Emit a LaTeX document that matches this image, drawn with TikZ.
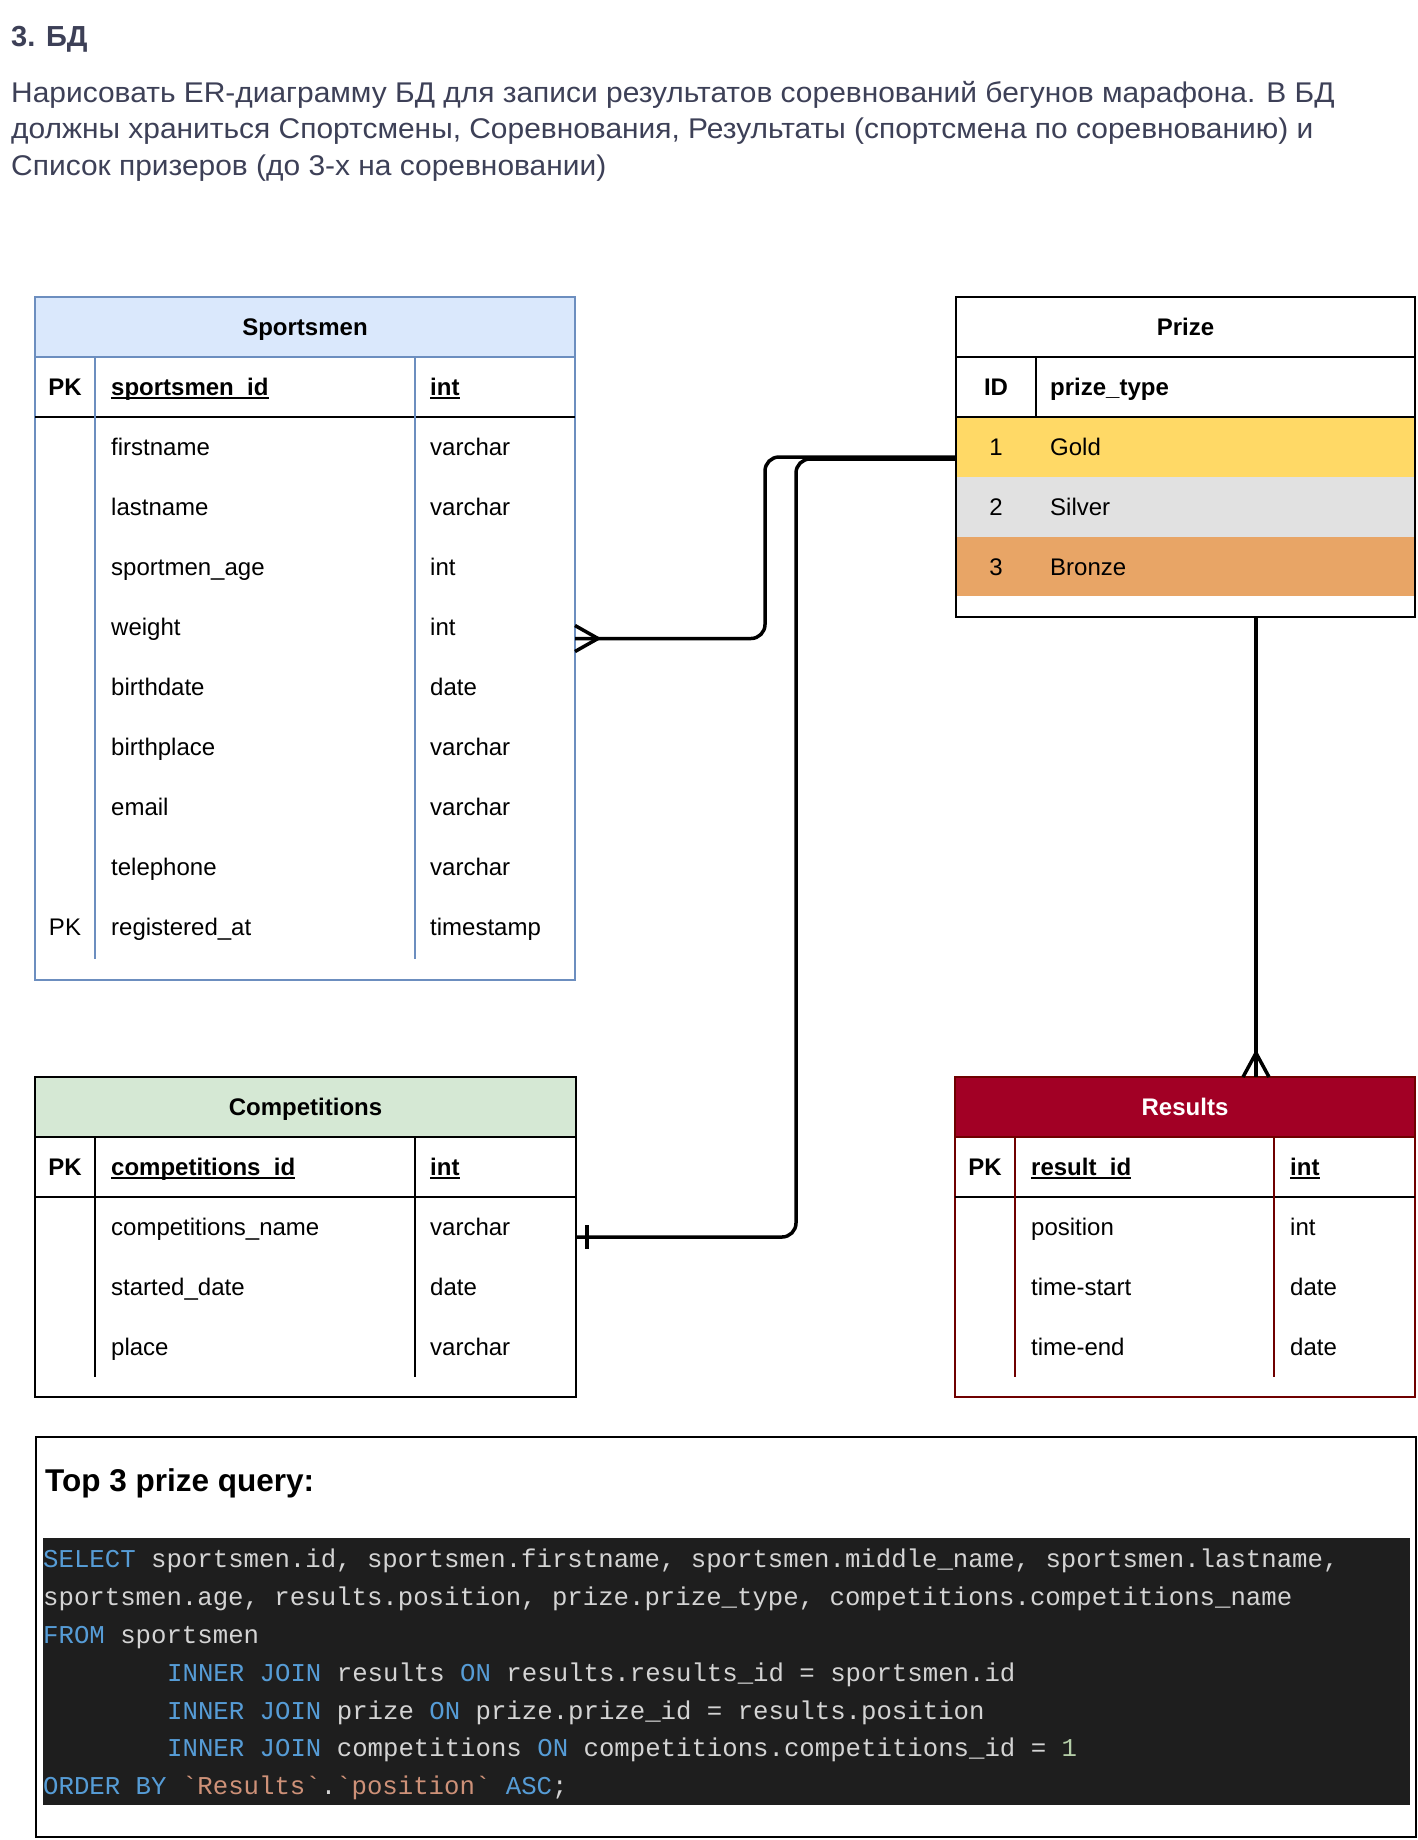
\documentclass[tikz,border=0pt]{standalone}
\usepackage{fontspec}
\setmainfont{Liberation Sans}
\setmonofont{Liberation Mono}
\newfontfamily\parafont[FakeStretch=1.05]{Liberation Sans}
\definecolor{paracol}{HTML}{3D4057}
\definecolor{sblue}{HTML}{6C8EBF}
\definecolor{sfill}{HTML}{DAE8FC}
\definecolor{cfill}{HTML}{D5E8D4}
\definecolor{rfill}{HTML}{A20025}
\definecolor{rline}{HTML}{6F0000}
\definecolor{goldc}{HTML}{FFD966}
\definecolor{silverc}{HTML}{E1E1E1}
\definecolor{bronzec}{HTML}{E8A566}
\definecolor{codebg}{HTML}{1E1E1E}
\definecolor{codetx}{HTML}{D4D4D4}
\definecolor{codekw}{HTML}{569CD6}
\definecolor{codestr}{HTML}{CE9178}
\definecolor{codenum}{HTML}{B5CEA8}
\newcommand\myfs[1]{\fontsize{#1}{#1}\selectfont}
\newcommand\kw[1]{\textcolor{codekw}{#1}}
\newcommand\myul[1]{\setbox0=\hbox{#1}\rlap{\rule[-3.5pt]{\wd0}{1.8pt}}\box0}
\begin{document}
\begin{tikzpicture}[x=1pt,y=-1pt,
  cell/.style={anchor=west,inner sep=0pt,font=\myfs{24},text height=17pt,text depth=0pt},
  hcell/.style={cell,font=\bfseries\myfs{24}},
  hdrtext/.style={anchor=center,inner sep=0pt,font=\bfseries\myfs{24},text height=17pt,text depth=0pt},
  tbox/.style={anchor=north west,inner sep=0pt,outer sep=0pt},
  conn/.style={line width=3.5pt},
  codeln/.style={anchor=base west,inner sep=0pt,font=\ttfamily\myfs{25.7},text=codetx},
  paratext/.style={anchor=base west,inner sep=0pt,font=\parafont\myfs{28.5},text=paracol}
]
\useasboundingbox (0,0) rectangle (1418,1840);
\fill[white] (0,0) rectangle (1418,1840);

% ---------- heading ----------
\node[paratext,font=\bfseries\myfs{29}] (head) at (11,46) {3. БД};
\node[paratext] (par1) at (11,102) {Нарисовать ER-диаграмму БД для записи результатов соревнований бегунов марафона. В БД};
\node[paratext] (par2) at (11,138.5) {должны храниться Спортсмены, Соревнования, Результаты (спортсмена по соревнованию) и};
\node[paratext] (par3) at (11,175) {Список призеров (до 3-х на соревновании)};

% ---------- Sportsmen ----------
\node[tbox,fill=sfill,minimum width=540pt,minimum height=60pt] (sporthead) at (35,297) {};
\node[tbox,draw=sblue,line width=1.5pt,minimum width=540pt,minimum height=683pt] (sport) at (35,297) {};
\draw[sblue,line width=1.5pt] (35,357) -- (575,357);
\draw[black,line width=2pt] (35,417) -- (575,417);
\draw[sblue,line width=1.5pt] (95,357) -- (95,959) (415,357) -- (415,959);
\node[hdrtext] (sportt) at (305,327) {Sportsmen};
\node[hcell,anchor=center] (spk) at (65,387) {PK};
\node[hcell] (spn) at (111,387) {\myul{sportsmen\_id}};
\node[hcell] (spt) at (430,387) {\myul{int}};
\foreach \n/\t [count=\i from 0] in {firstname/varchar,lastname/varchar,sportmen\_age/int,weight/int,birthdate/date,birthplace/varchar,email/varchar,telephone/varchar,registered\_at/timestamp}{
  \node[cell] (sn\i) at (111,447+60*\i) {\n};
  \node[cell] (st\i) at (430,447+60*\i) {\t};
}
\node[cell,anchor=center] (spk2) at (65,927) {PK};

% ---------- Prize ----------
\node[tbox,fill=goldc,minimum width=459pt,minimum height=60pt] (goldrow) at (956,417) {};
\node[tbox,fill=silverc,minimum width=459pt,minimum height=60pt] (silverrow) at (956,477) {};
\node[tbox,fill=bronzec,minimum width=459pt,minimum height=59pt] (bronzerow) at (956,537) {};
\node[tbox,draw,line width=2pt,minimum width=459pt,minimum height=320pt] (prize) at (956,297) {};
\draw[line width=2pt] (956,357) -- (1415,357) (956,417) -- (1415,417) (1036,357) -- (1036,417);
\node[hdrtext] (prizet) at (1185.5,327) {Prize};
\node[hdrtext] (pid) at (996,387) {ID};
\node[hcell] (ptype) at (1050,387) {prize\_type};
\node[cell,anchor=center] (p1) at (996,447) {1};
\node[cell] (p1n) at (1050,447) {Gold};
\node[cell,anchor=center] (p2) at (996,507) {2};
\node[cell] (p2n) at (1050,507) {Silver};
\node[cell,anchor=center] (p3) at (996,567) {3};
\node[cell] (p3n) at (1050,567) {Bronze};

% ---------- Competitions ----------
\node[tbox,fill=cfill,minimum width=541pt,minimum height=60pt] (comphead) at (35,1077) {};
\node[tbox,draw,line width=2pt,minimum width=541pt,minimum height=320pt] (comp) at (35,1077) {};
\draw[line width=2pt] (35,1137) -- (576,1137) (35,1197) -- (576,1197);
\draw[line width=1.5pt] (95,1137) -- (95,1377) (415,1137) -- (415,1377);
\node[hdrtext] (compt) at (305.5,1107) {Competitions};
\node[hcell,anchor=center] (cpk) at (65,1167) {PK};
\node[hcell] (cpn) at (111,1167) {\myul{competitions\_id}};
\node[hcell] (cpt) at (430,1167) {\myul{int}};
\foreach \n/\t [count=\i from 0] in {competitions\_name/varchar,started\_date/date,place/varchar}{
  \node[cell] (cn\i) at (111,1227+60*\i) {\n};
  \node[cell] (ct\i) at (430,1227+60*\i) {\t};
}

% ---------- Results ----------
\node[tbox,fill=rfill,minimum width=460pt,minimum height=60pt] (reshead) at (955,1077) {};
\node[tbox,draw=rline,line width=2pt,minimum width=460pt,minimum height=320pt] (res) at (955,1077) {};
\draw[rline,line width=2pt] (955,1137) -- (1415,1137);
\draw[black,line width=2pt] (955,1197) -- (1415,1197);
\draw[rline,line width=1.5pt] (1015,1137) -- (1015,1377) (1274,1137) -- (1274,1377);
\node[hdrtext,text=white] (rest) at (1185,1107) {Results};
\node[hcell,anchor=center] (rpk) at (985,1167) {PK};
\node[hcell] (rpn) at (1031,1167) {\myul{result\_id}};
\node[hcell] (rpt) at (1290,1167) {\myul{int}};
\foreach \n/\t [count=\i from 0] in {position/int,time-start/date,time-end/date}{
  \node[cell] (rn\i) at (1031,1227+60*\i) {\n};
  \node[cell] (rt\i) at (1290,1227+60*\i) {\t};
}

% ---------- connectors ----------
\coordinate (rtop) at (1256,1077);
\draw[conn,rounded corners=14pt] (prize.west) -- (765,457) -- (765,638.5) -- (sport.east);
\draw[conn] ([yshift=13pt]sport.east) -- ++(23,13) -- ++(-23,13);
\draw[conn,rounded corners=14pt] ([yshift=-2pt]prize.west) -- (796,459) -- (796,1237) -- (comp.east);
\draw[conn] ([xshift=11pt,yshift=12pt]comp.east) -- ++(0,24);
\draw[conn] (prize.south -| rtop) -- (rtop);
\draw[conn] ([xshift=-13pt]rtop) -- ++(13,-24) -- ++(13,24);

% ---------- query ----------
\node[tbox,draw,line width=2pt,minimum width=1380pt,minimum height=400pt] (query) at (36,1437) {};
\node[tbox,fill=codebg,minimum width=1367pt,minimum height=267pt] (code) at (43,1538) {};
\node[anchor=base west,inner sep=0pt,font=\bfseries\myfs{31.5}] (qtitle) at (45,1491) {Top 3 prize query:};
\node[codeln] (c1) at (43,1567) {\kw{SELECT} sportsmen.id, sportsmen.firstname, sportsmen.middle\_name, sportsmen.lastname,};
\node[codeln] (c2) at (43,1605) {sportsmen.age, results.position, prize.prize\_type, competitions.competitions\_name};
\node[codeln] (c3) at (43,1643) {\kw{FROM} sportsmen};
\node[codeln] (c4) at (167,1681) {\kw{INNER JOIN} results \kw{ON} results.results\_id = sportsmen.id};
\node[codeln] (c5) at (167,1719) {\kw{INNER JOIN} prize \kw{ON} prize.prize\_id = results.position};
\node[codeln] (c6) at (167,1756) {\kw{INNER JOIN} competitions \kw{ON} competitions.competitions\_id = \textcolor{codenum}{1}};
\node[codeln] (c7) at (43,1794) {\kw{ORDER BY} \textcolor{codestr}{`Results`}.\textcolor{codestr}{`position`} \kw{ASC};};
\end{tikzpicture}
\end{document}
